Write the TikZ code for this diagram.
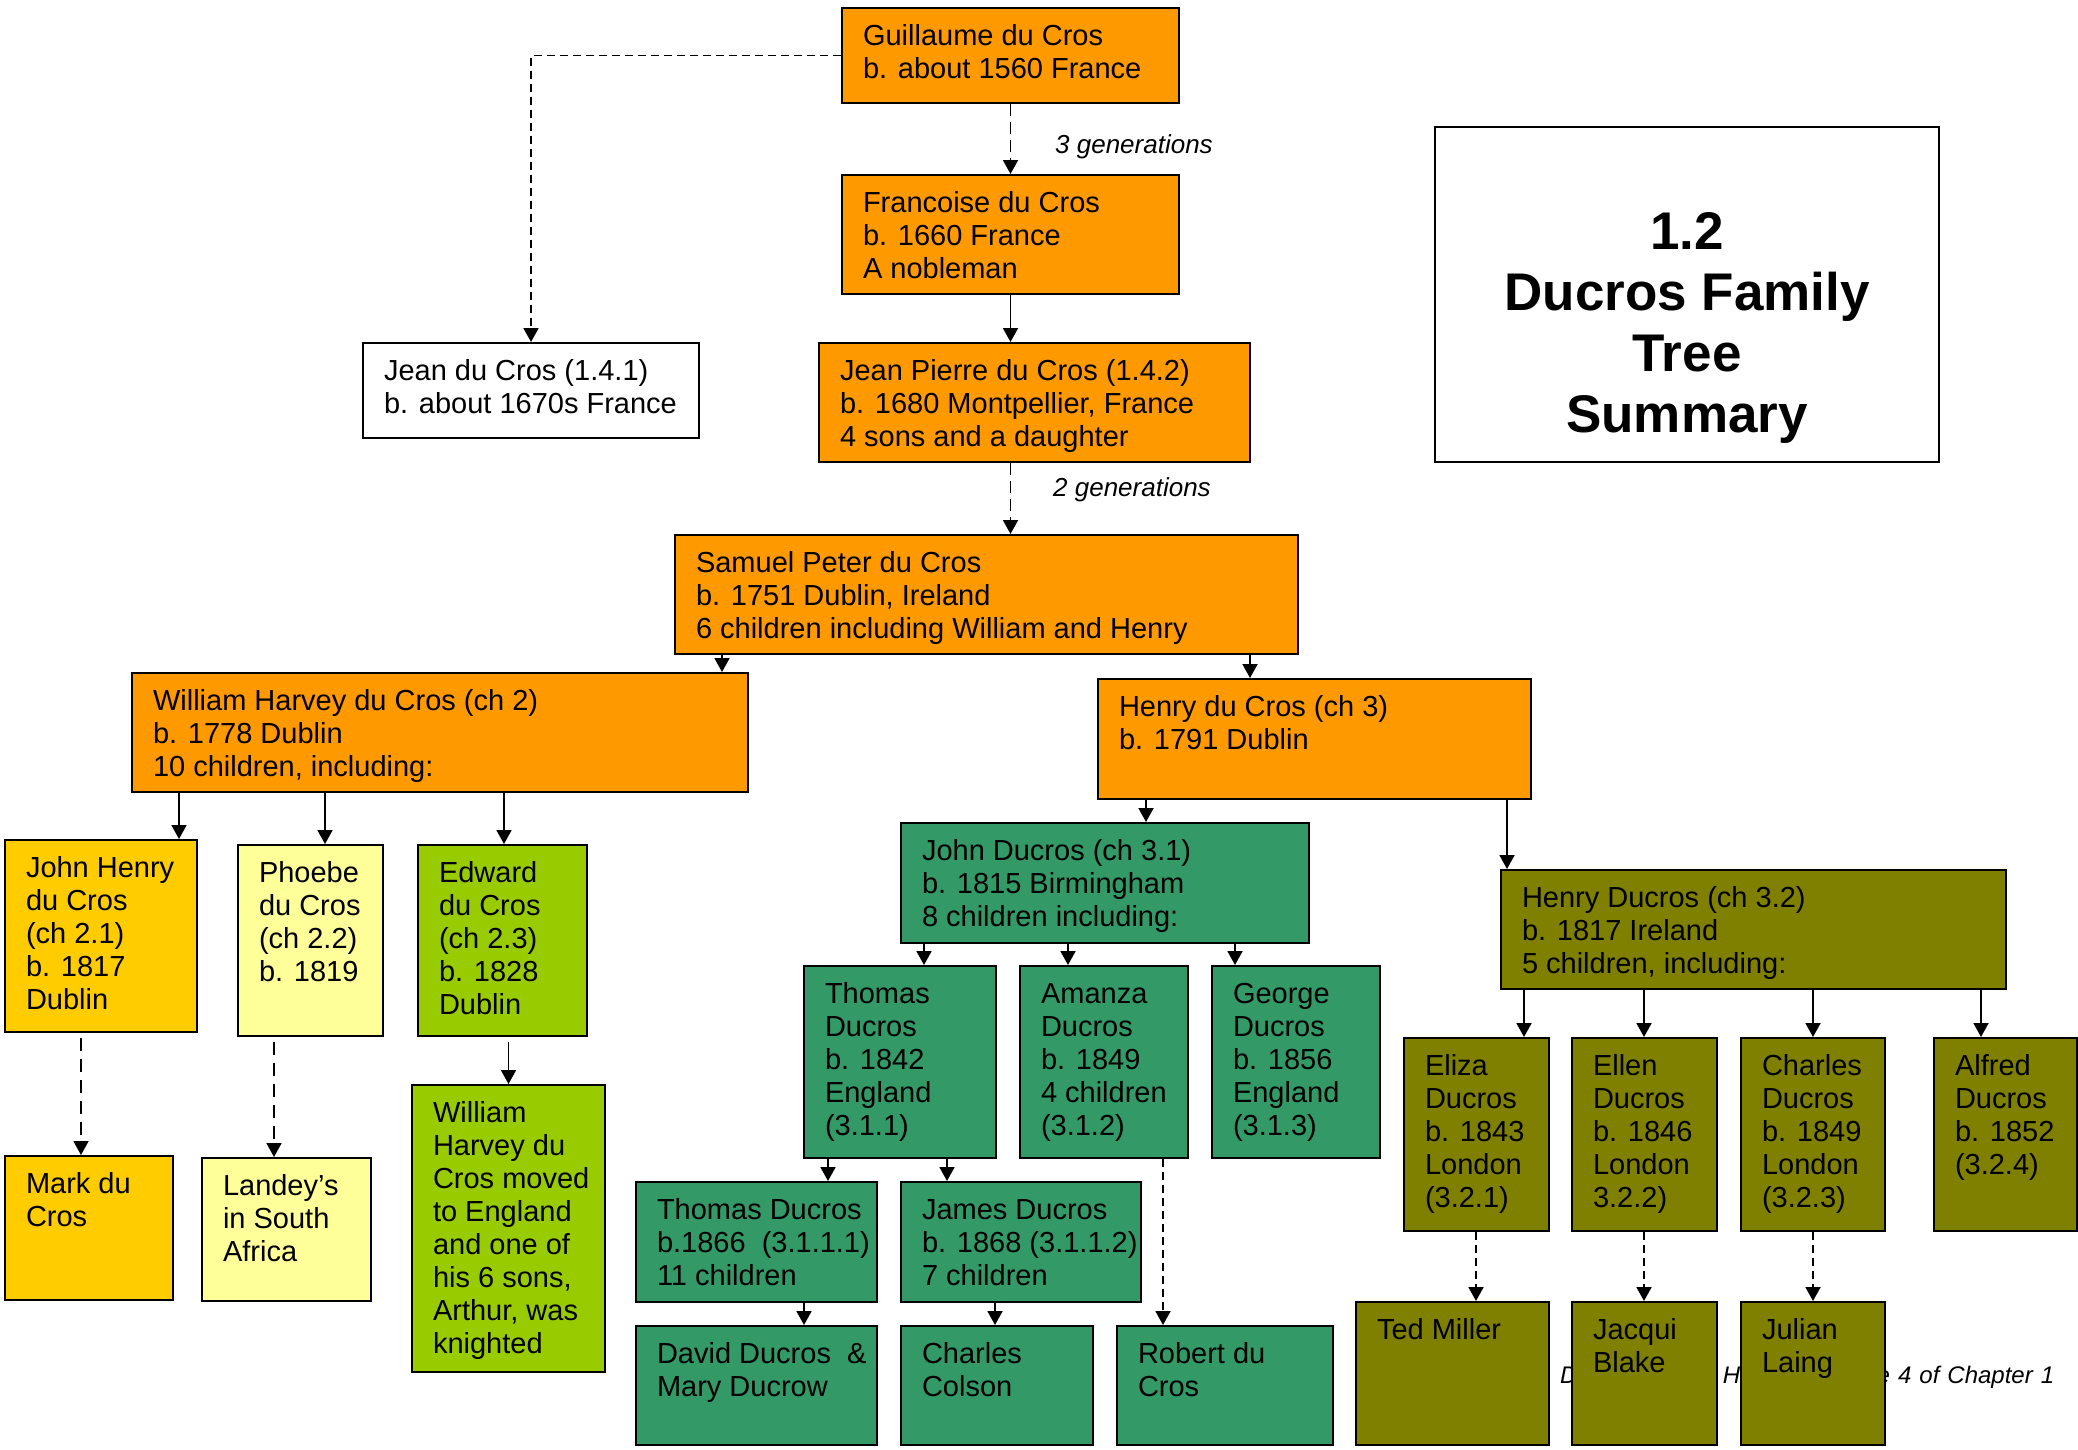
\documentclass[tikz,border=0pt]{standalone}
\usepackage{fontspec}
\setmainfont{Liberation Sans}
\usetikzlibrary{arrows.meta}

\definecolor{famorange}{HTML}{FF9900}
\definecolor{famgold}{HTML}{FFCC00}
\definecolor{famcream}{HTML}{FFFF99}
\definecolor{famlime}{HTML}{99CC00}
\definecolor{famsea}{HTML}{339966}
\definecolor{famolive}{HTML}{808000}

% box text: width, height, lines
\newcommand{\cell}[3]{\parbox[t][\dimexpr#2pt-28pt\relax][t]{\dimexpr#1pt-42pt\relax}{\begin{tabular}[t]{@{}l@{}}#3\end{tabular}}}

\tikzset{
  person/.style={draw=black, line width=2pt, anchor=north west, inner xsep=21pt, inner ysep=14pt},
  gendash/.style={dash pattern=on 12pt off 6pt},
  longdash/.style={dash pattern=on 13pt off 8pt},
  shortdash/.style={dash pattern=on 8pt off 5pt}
}

\begin{document}
\begin{tikzpicture}[x=1pt,y=-1pt,font=\fontsize{29}{33}\selectfont]
            \useasboundingbox (0,0) rectangle (2078,1449);

            \node[anchor=west, text width=494pt, inner sep=0, font=\fontsize{24}{28}\selectfont\itshape] (footer) at (1560,1377) {Ducros Family History\hfill Page 4 of Chapter 1};

            \begin{scope}[every node/.style={person}]
                \node[fill=famorange] (guillaume) at (841,7) {\cell{337}{95}{Guillaume du Cros\\b. about 1560 France}};
                \node[fill=famorange] (francoise) at (841,174) {\cell{337}{119}{Francoise du Cros\\b. 1660 France\\A nobleman}};
                \node[fill=white] (jean) at (362,342) {\cell{336}{95}{Jean du Cros (1.4.1)\\b. about 1670s France}};
                \node[fill=famorange] (jeanpierre) at (818,342) {\cell{431}{119}{Jean Pierre du Cros (1.4.2)\\b. 1680 Montpellier, France\\4 sons and a daughter}};
                \node[fill=famorange] (samuel) at (674,534) {\cell{623}{119}{Samuel Peter du Cros\\b. 1751 Dublin, Ireland\\6 children including William and Henry}};

                \node[fill=famorange] (william) at (131,672) {\cell{616}{119}{William Harvey du Cros (ch 2)\\b. 1778 Dublin\\10 children, including:}};
                \node[fill=famorange] (henry) at (1097,678) {\cell{433}{120}{Henry du Cros (ch 3)\\b. 1791 Dublin}};

                \node[fill=famgold] (johnhenry) at (4,839) {\cell{192}{192}{John Henry\\du Cros\\(ch 2.1)\\b. 1817\\Dublin}};
                \node[fill=famcream] (phoebe) at (237,844) {\cell{145}{191}{Phoebe\\du Cros\\(ch 2.2)\\b. 1819}};
                \node[fill=famlime] (edward) at (417,844) {\cell{169}{191}{Edward\\du Cros\\(ch 2.3)\\b. 1828\\Dublin}};
                \node[fill=famgold] (mark) at (4,1155) {\cell{168}{144}{Mark du\\Cros}};
                \node[fill=famcream] (landey) at (201,1157) {\cell{169}{143}{Landey’s\\in South\\Africa}};
                \node[fill=famlime] (wmoved) at (411,1084) {\cell{193}{287}{William\\Harvey du\\Cros moved\\to England\\and one of\\his 6 sons,\\Arthur, was\\knighted}};

                \node[fill=famsea] (john) at (900,822) {\cell{408}{120}{John Ducros (ch 3.1)\\b. 1815 Birmingham\\8 children including:}};
                \node[fill=famsea] (thomas) at (803,965) {\cell{192}{192}{Thomas\\Ducros\\b. 1842\\England\\(3.1.1)}};
                \node[fill=famsea] (amanza) at (1019,965) {\cell{168}{192}{Amanza\\Ducros\\b. 1849\\4 children\\(3.1.2)}};
                \node[fill=famsea] (george) at (1211,965) {\cell{168}{192}{George\\Ducros\\b. 1856\\England\\(3.1.3)}};
                \node[fill=famsea] (thomasjr) at (635,1181) {\cell{241}{120}{Thomas Ducros\\b.1866\ \ (3.1.1.1)\\11 children}};
                \node[fill=famsea] (james) at (900,1181) {\cell{240}{120}{James Ducros\\b. 1868 (3.1.1.2)\\7 children}};
                \node[fill=famsea] (david) at (635,1325) {\cell{241}{119}{David Ducros\ \ \&\\Mary Ducrow}};
                \node[fill=famsea] (colson) at (900,1325) {\cell{192}{119}{Charles\\Colson}};
                \node[fill=famsea] (robert) at (1116,1325) {\cell{216}{119}{Robert du\\Cros}};

                \node[fill=famolive] (henryd) at (1500,869) {\cell{505}{119}{Henry Ducros (ch 3.2)\\b. 1817 Ireland\\5 children, including:}};
                \node[fill=famolive] (eliza) at (1403,1037) {\cell{145}{193}{Eliza\\Ducros\\b. 1843\\London\\(3.2.1)}};
                \node[fill=famolive] (ellen) at (1571,1037) {\cell{145}{193}{Ellen\\Ducros\\b. 1846\\London\\3.2.2)}};
                \node[fill=famolive] (charles) at (1740,1037) {\cell{144}{193}{Charles\\Ducros\\b. 1849\\London\\(3.2.3)}};
                \node[fill=famolive] (alfred) at (1933,1037) {\cell{143}{193}{Alfred\\Ducros\\b. 1852\\(3.2.4)}};
                \node[fill=famolive] (ted) at (1355,1301) {\cell{193}{143}{Ted Miller}};
                \node[fill=famolive] (jacqui) at (1571,1301) {\cell{145}{143}{Jacqui\\Blake}};
                \node[fill=famolive] (julian) at (1740,1301) {\cell{144}{143}{Julian\\Laing}};
            \end{scope}

            \node[draw=black, line width=2pt, anchor=north west, minimum width=504pt, inner sep=0pt, text height=122pt, text depth=213pt,
                  font=\fontsize{53}{61}\selectfont\bfseries] (title) at (1434,126)
                  {\begin{tabular}[t]{@{}c@{}}1.2\\Ducros Family\\Tree\\Summary\end{tabular}};

            \node[anchor=west, inner sep=0, font=\fontsize{26}{30}\selectfont\itshape] (gen3) at (1055,147) {3 generations};
            \node[anchor=west, inner sep=0, font=\fontsize{26}{30}\selectfont\itshape] (gen2) at (1053,490) {2 generations};

            \begin{scope}[every edge/.style={draw, line width=1.8pt, -{Triangle[width=15pt,length=14pt]}}]
                \path (guillaume.south) edge[gendash] (francoise.north);
                \path (francoise.south) edge (francoise.south |- jeanpierre.north);
                \path (francoise.south |- jeanpierre.south) edge[gendash] (francoise.south |- samuel.north);
                \path (guillaume.west) edge[shortdash, to path={-| (\tikztotarget)}] (jean.north);

                \path (samuel.south -| 722,0) edge (william.north -| 722,0);
                \path (samuel.south -| 1250,0) edge (henry.north -| 1250,0);

                \path (william.south -| 179,0) edge (johnhenry.north -| 179,0);
                \path (william.south -| 325,0) edge (phoebe.north -| 325,0);
                \path (william.south -| 504,0) edge (edward.north -| 504,0);
                \path (johnhenry.south -| 81,0) edge[longdash, shorten <=5pt] (mark.north -| 81,0);
                \path (phoebe.south -| 274,0) edge[longdash, shorten <=5pt] (landey.north -| 274,0);
                \path (edward.south -| wmoved.north) edge[shorten <=5pt] (wmoved.north);

                \path (henry.south -| 1146,0) edge (john.north -| 1146,0);
                \path (henry.south -| 1507,0) edge (henryd.north -| 1507,0);

                \path (john.south -| 924,0) edge (thomas.north -| 924,0);
                \path (john.south -| 1068,0) edge (amanza.north -| 1068,0);
                \path (john.south -| 1235,0) edge (george.north -| 1235,0);
                \path (thomas.south -| 828,0) edge (thomasjr.north -| 828,0);
                \path (thomas.south -| 947,0) edge (james.north -| 947,0);
                \path (thomasjr.south -| 804,0) edge (david.north -| 804,0);
                \path (james.south -| 995,0) edge (colson.north -| 995,0);
                \path (amanza.south -| 1163,0) edge[shortdash] (robert.north -| 1163,0);

                \path (henryd.south -| 1524,0) edge (eliza.north -| 1524,0);
                \path (henryd.south -| 1644,0) edge (ellen.north -| 1644,0);
                \path (henryd.south -| 1813,0) edge (charles.north -| 1813,0);
                \path (henryd.south -| 1981,0) edge (alfred.north -| 1981,0);
                \path (eliza.south -| 1476,0) edge[shortdash] (ted.north -| 1476,0);
                \path (ellen.south -| 1644,0) edge[shortdash] (jacqui.north -| 1644,0);
                \path (charles.south -| 1813,0) edge[shortdash] (julian.north -| 1813,0);
            \end{scope}
        \end{tikzpicture}
\end{document}
